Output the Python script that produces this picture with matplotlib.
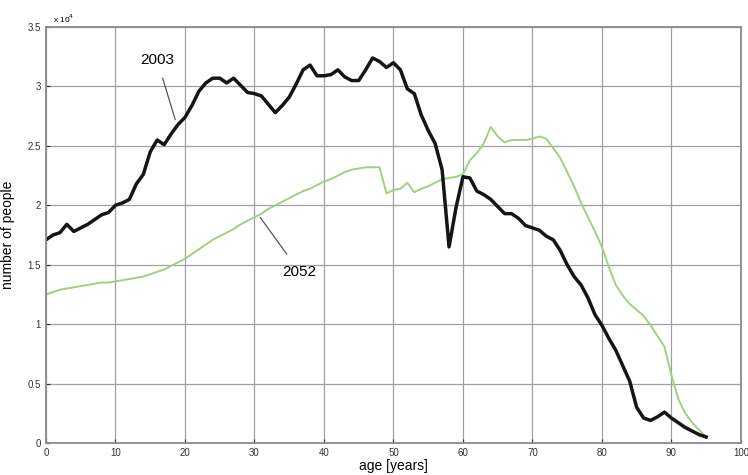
import numpy as np
import matplotlib
matplotlib.use('Agg')
import matplotlib.pyplot as plt
from matplotlib.ticker import FuncFormatter

plt.rcParams['font.family'] = ['Liberation Sans', 'DejaVu Sans']

# ages 0..95, values in units of 1e4 people
ages = list(range(0, 96))

pop_2003 = [1.71, 1.75, 1.77, 1.84, 1.78, 1.81, 1.84, 1.88, 1.92, 1.94,
            2.00, 2.02, 2.05, 2.18, 2.26, 2.45, 2.55, 2.51, 2.60, 2.68,
            2.74, 2.84, 2.96, 3.03, 3.07, 3.07, 3.03, 3.07, 3.01, 2.95,
            2.94, 2.92, 2.85, 2.78, 2.84, 2.91, 3.02, 3.14, 3.18, 3.09,
            3.09, 3.10, 3.14, 3.08, 3.05, 3.05, 3.14, 3.24, 3.21, 3.16,
            3.20, 3.14, 2.98, 2.94, 2.76, 2.63, 2.52, 2.30, 1.65, 1.98,
            2.24, 2.23, 2.12, 2.09, 2.05, 1.99, 1.93, 1.93, 1.89, 1.83,
            1.81, 1.79, 1.74, 1.71, 1.62, 1.50, 1.40, 1.33, 1.22, 1.08,
            0.99, 0.88, 0.78, 0.65, 0.52, 0.30, 0.21, 0.19, 0.22, 0.26,
            0.21, 0.17, 0.13, 0.10, 0.07, 0.05]

pop_2052 = [1.25, 1.27, 1.29, 1.30, 1.31, 1.32, 1.33, 1.34, 1.35, 1.35,
            1.36, 1.37, 1.38, 1.39, 1.40, 1.42, 1.44, 1.46, 1.49, 1.52,
            1.55, 1.59, 1.63, 1.67, 1.71, 1.74, 1.77, 1.80, 1.84, 1.87,
            1.90, 1.93, 1.97, 2.00, 2.03, 2.06, 2.09, 2.12, 2.14, 2.17,
            2.20, 2.22, 2.25, 2.28, 2.30, 2.31, 2.32, 2.32, 2.32, 2.10,
            2.13, 2.14, 2.19, 2.11, 2.14, 2.16, 2.19, 2.22, 2.23, 2.24,
            2.26, 2.38, 2.44, 2.52, 2.66, 2.58, 2.53, 2.55, 2.55, 2.55,
            2.56, 2.58, 2.56, 2.48, 2.40, 2.28, 2.16, 2.02, 1.90, 1.78,
            1.65, 1.48, 1.33, 1.24, 1.17, 1.12, 1.07, 0.99, 0.90, 0.81,
            0.57, 0.37, 0.25, 0.17, 0.11, 0.05]

xticks = list(range(0, 101, 10))
yticks = [0, 0.5, 1, 1.5, 2, 2.5, 3, 3.5]

fig = plt.figure(figsize=(7.48, 4.75), dpi=100)
ax = fig.add_axes([0.0615, 0.0674, 0.929, 0.8756])

ax.plot(ages, pop_2052, color='#a3cf80', lw=1.4, solid_joinstyle='round')
ax.plot(ages, pop_2003, color='#151515', lw=2.5, solid_joinstyle='round')

ax.set_xlim(0, 100)
ax.set_ylim(0, 3.5)
ax.set_xticks(xticks)
ax.set_yticks(yticks)
ax.yaxis.set_major_formatter(FuncFormatter(lambda v, p: '%g' % v))
ax.tick_params(direction='in', labelsize=7, length=3, colors='#333333')
ax.grid(True, color='#a0a0a0', lw=0.9)
for s in ax.spines.values():
    s.set_color('#8a8a8a')
    s.set_linewidth(1.3)

ax.set_xlabel('age [years]', fontsize=10, labelpad=1)
ax.set_ylabel('number of people', fontsize=10, labelpad=9)
ax.text(0.01, 1.005, r'x 10$^4$', transform=ax.transAxes, fontsize=6, va='bottom')

ax.annotate('2003', xy=(18.6, 2.72), xytext=(16.0, 3.22), fontsize=11,
            ha='center', va='center',
            arrowprops=dict(arrowstyle='-', color='#555555', lw=0.9, shrinkA=6, shrinkB=0))
ax.annotate('2052', xy=(30.8, 1.90), xytext=(36.5, 1.44), fontsize=11,
            ha='center', va='center',
            arrowprops=dict(arrowstyle='-', color='#555555', lw=0.9, shrinkA=7, shrinkB=0))

fig.savefig('out.png', dpi=100)
